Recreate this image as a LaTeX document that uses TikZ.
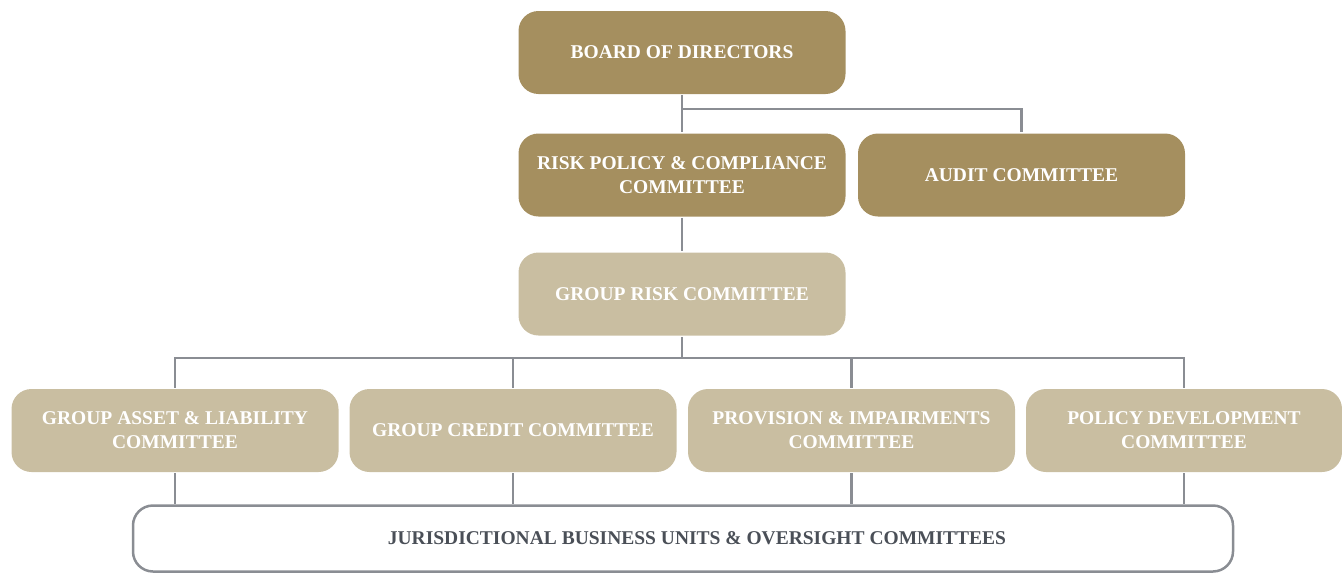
\documentclass[tikz,border=0pt]{standalone}
\usepackage{fontspec}
\setmainfont{Liberation Serif}
\usepackage{tikz}
\usetikzlibrary{positioning,calc}
\definecolor{mydark}{RGB}{165,143,95}
\definecolor{mylight}{RGB}{201,190,161}
\definecolor{myline}{RGB}{138,141,147}
\definecolor{mytext}{RGB}{74,79,87}

\begin{document}
\begin{tikzpicture}[x=1pt,y=-1pt,
        every node/.style={rounded corners=20pt,align=center,text=white,
          font=\bfseries\fontsize{19.5}{24}\selectfont,
          minimum width=327pt,minimum height=83pt,inner sep=0pt},
        darknode/.style={fill=mydark},
        lightnode/.style={fill=mylight},
        unitnode/.style={draw=myline,line width=2.5pt,text=mytext,
          font=\bfseries\fontsize{19.5}{24}\selectfont,
          minimum width=1100pt,minimum height=66pt},
        line width=2.5pt,myline
      ]
      \useasboundingbox (0,0) rectangle (1342,573);

      % the board and its committees
      \node[darknode] (bod) at (682,52.5) {BOARD OF DIRECTORS};
      \node[darknode] (rpc) at (682,175) {RISK POLICY \& COMPLIANCE\\COMMITTEE};
      \node[darknode] (audit) at (1021.5,175) {AUDIT COMMITTEE};
      \node[lightnode] (grc) at (682,294) {GROUP RISK COMMITTEE};

      % the group committees
      \node[lightnode] (galc) at (175,430.5) {GROUP ASSET \& LIABILITY\\COMMITTEE};
      \node[lightnode] (gcc) at (513,430.5) {GROUP CREDIT COMMITTEE};
      \node[lightnode] (pic) at (851.5,430.5) {PROVISION \& IMPAIRMENTS\\COMMITTEE};
      \node[lightnode,minimum width=316pt] (pdc) at (1184,430.5) {POLICY DEVELOPMENT\\COMMITTEE};

      % the business units
      \node[unitnode] (jbu) at (683,538.5) {\hspace*{28pt}JURISDICTIONAL BUSINESS UNITS \& OVERSIGHT COMMITTEES};

      % the edges
      \coordinate (j1) at (682,109);
      \coordinate (j2) at (682,358);
      \draw (bod) -- (rpc); \draw (j1) -| (audit.north);
      \draw (rpc) -- (grc); \draw (grc) -- (j2);
      \foreach \n in {galc,gcc,pic,pdc}
        \draw (j2) -| (\n.north);
      \foreach \n in {galc,gcc,pic,pdc}
        \draw (\n.south) -- (\n.south |- jbu.north);
\end{tikzpicture}
\end{document}
